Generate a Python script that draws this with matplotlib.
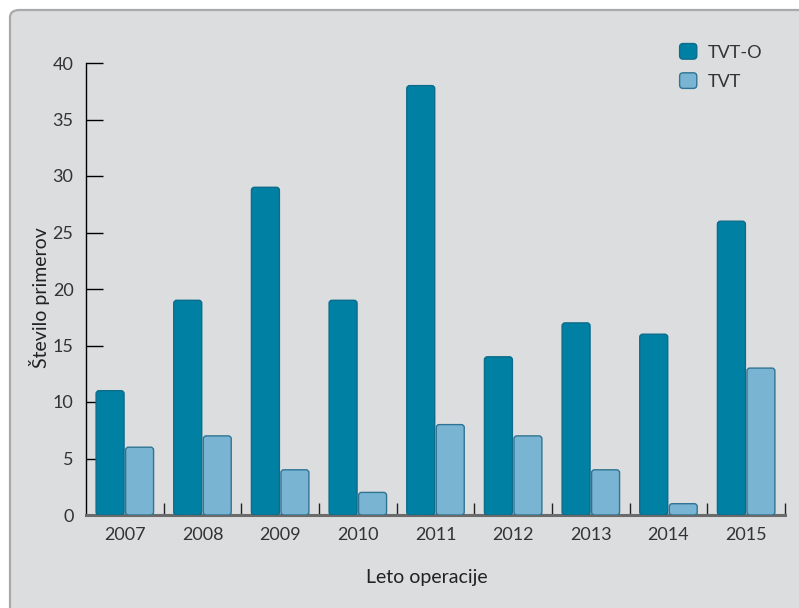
import matplotlib
matplotlib.use("Agg")
from matplotlib import pyplot as plt
from matplotlib.patches import FancyBboxPatch
from matplotlib.legend_handler import HandlerPatch
import numpy as np

years = ["2007", "2008", "2009", "2010", "2011", "2012", "2013", "2014", "2015"]
tvt_o = [11, 19, 29, 19, 38, 14, 17, 16, 26]
tvt = [6, 7, 4, 2, 8, 7, 4, 1, 13]
yticks = [0, 5, 10, 15, 20, 25, 30, 35, 40]

dark_fill, dark_edge = "#0080a3", "#0b6c8b"
light_fill, light_edge = "#79b5d3", "#2f7493"
panel = "#dcdddf"

plt.rcParams['font.family'] = ['Lato', 'DejaVu Sans']
plt.rcParams['text.color'] = '#333333'

W, H = 799, 608
fig = plt.figure(figsize=(W / 100, H / 100), dpi=100)
fig.patch.set_facecolor("white")

# grey rounded panel behind everything (runs off right and bottom edge)
bg = FancyBboxPatch((10 / W, -0.05), 1.0, (H - 10) / H + 0.05,
                    boxstyle="round,pad=0,rounding_size=0.012",
                    transform=fig.transFigure, facecolor=panel,
                    edgecolor="#a9a9a9", linewidth=1.6, zorder=-10)
fig.patches.append(bg)

ax = fig.add_axes([86 / W, (H - 515) / H, (785 - 86) / W, (515 - 63) / H])
ax.set_facecolor("none")

x = np.arange(len(years)) + 0.5
w = 0.36
off = 0.19

# rounding: ~3 px in both directions
px_x = 1 / 77.6
px_y = 1 / 11.3
rs = 3 * px_x
aspect = px_y / px_x


def rounded(bars, fc, ec):
    for b in bars:
        bx, by = b.get_x(), b.get_y()
        bw, bh = b.get_width(), b.get_height()
        b.remove()
        p = FancyBboxPatch((bx, by), bw, bh,
                           boxstyle=f"round,pad=0,rounding_size={rs}",
                           mutation_aspect=aspect,
                           facecolor=fc, edgecolor=ec, linewidth=1.0,
                           zorder=3)
        ax.add_patch(p)


b1 = ax.bar(x - off, tvt_o, w)
b2 = ax.bar(x + off, tvt, w)
rounded(b1, dark_fill, dark_edge)
rounded(b2, light_fill, light_edge)

ax.set_xlim(0, 9)
ax.set_ylim(0, 40)
ax.set_yticks(yticks)
ax.set_xticks(x)
ax.set_xticklabels(years)
ax.set_xticks(np.arange(1, 10), minor=True)

ax.tick_params(axis="y", direction="in", length=12.5, width=1, color="black",
               labelsize=13, pad=9, labelcolor="#333333")
ax.tick_params(axis="x", which="major", length=0, labelsize=13, pad=9,
               labelcolor="#333333")
ax.tick_params(axis="x", which="minor", direction="in", length=9, width=1,
               color="#222222")

for s in ["top", "right"]:
    ax.spines[s].set_visible(False)
ax.spines["left"].set_linewidth(1.0)
ax.spines["left"].set_color("black")
ax.spines["bottom"].set_linewidth(2.2)
ax.spines["bottom"].set_color("#6b6b6b")

ax.set_ylabel("Število primerov", fontsize=14, color="#222222")
ax.yaxis.set_label_coords(-0.052, 0.48)
ax.set_xlabel("Leto operacije", fontsize=14, color="#222222")
ax.xaxis.set_label_coords(0.487, -0.12)


class RoundHandler(HandlerPatch):
    def create_artists(self, legend, orig_handle, xdescent, ydescent,
                       width, height, fontsize, trans):
        p = FancyBboxPatch((-xdescent, -ydescent), width, height,
                           boxstyle="round,pad=0,rounding_size=2.5",
                           facecolor=orig_handle.get_facecolor(),
                           edgecolor=orig_handle.get_edgecolor(),
                           linewidth=1.0, transform=trans)
        return [p]


h1 = FancyBboxPatch((0, 0), 1, 1, facecolor=dark_fill, edgecolor=dark_edge)
h2 = FancyBboxPatch((0, 0), 1, 1, facecolor=light_fill, edgecolor=light_edge)
leg = ax.legend([h1, h2], ["TVT-O", "TVT"], loc="upper left",
                bbox_to_anchor=(0.826, 1.079), frameon=False, fontsize=13,
                handlelength=0.95, handleheight=0.95, handletextpad=0.6,
                labelspacing=0.68,
                handler_map={FancyBboxPatch: RoundHandler()})

fig.savefig("out.png", dpi=100)
